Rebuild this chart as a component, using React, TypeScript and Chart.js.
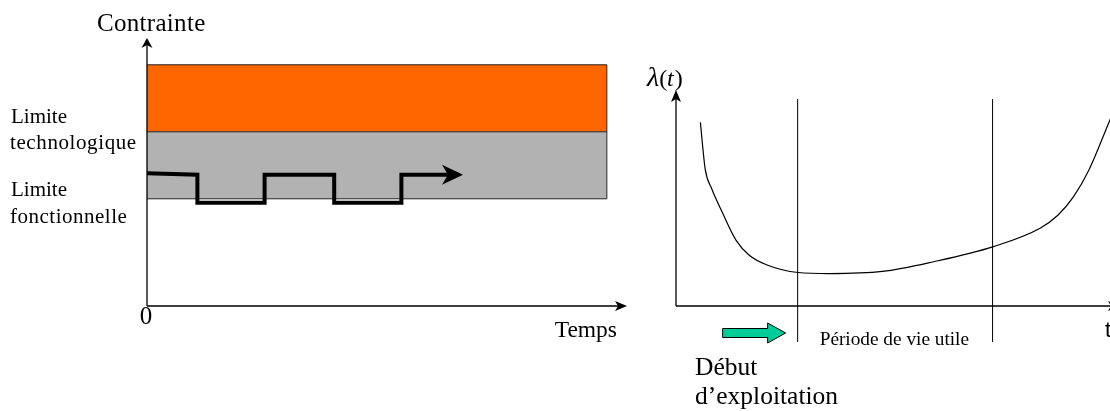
import { useEffect, useRef } from "react";
import { Chart, registerables } from "chart.js";

Chart.register(...registerables);

// ---------- Left panel: stress vs time ----------
const stressTime = [0, 1.05, 1.05, 2.45, 2.45, 3.9, 3.9, 5.3, 5.3, 6.5];
const stressLevel = [4.95, 4.9, 3.85, 3.85, 4.9, 4.9, 3.85, 3.85, 4.9, 4.9];
const bandEnd = 9.58;
const bandTop = 9;
const technoLimit = 6.5;
const functionalLimit = 4;

// ---------- Right panel: bathtub curve λ(t) ----------
const lifeTime = [0.55, 0.6, 0.66, 0.8, 1.05, 1.35, 1.65, 2.05, 2.75, 3.45, 4.65, 5.8, 7.15, 8.2, 8.6, 8.95, 9.3, 9.75, 9.95];
const failureRate = [8.5, 7.4, 6.3, 5.45, 4.3, 3.05, 2.35, 1.9, 1.55, 1.5, 1.6, 2.05, 2.75, 3.6, 4.2, 5.05, 6.3, 8.5, 9.5];
const usefulLifeBounds = [2.74, 7.13];
const boundTop = 9.58;
const boundBottom = -1.67;

const SERIF = "'Liberation Serif', 'Times New Roman', serif";

function arrowHead(ctx: CanvasRenderingContext2D, tx: number, ty: number, angle: number, len: number, half: number, notch: number, color = "#000") {
  ctx.save();
  ctx.translate(tx, ty);
  ctx.rotate(angle);
  ctx.beginPath();
  ctx.moveTo(0, 0);
  ctx.lineTo(-len, -half);
  ctx.lineTo(-len + notch, 0);
  ctx.lineTo(-len, half);
  ctx.closePath();
  ctx.fillStyle = color;
  ctx.fill();
  ctx.restore();
}

function spaced(ctx: CanvasRenderingContext2D, text: string, x: number, y: number, spacing: number) {
  (ctx as any).letterSpacing = `${spacing}px`;
  ctx.fillText(text, x, y);
  (ctx as any).letterSpacing = "0px";
}

const leftDecor = {
  id: "leftDecor",
  afterDatasetsDraw(chart: any) {
    const ctx: CanvasRenderingContext2D = chart.ctx;
    const xs = chart.scales.x;
    const ys = chart.scales.y;
    const x0 = xs.getPixelForValue(0);
    const y0 = ys.getPixelForValue(0);
    const top = chart.chartArea.top;
    const right = chart.chartArea.right;
    ctx.save();
    ctx.strokeStyle = "#000";
    ctx.lineWidth = 1.3;
    ctx.beginPath();
    ctx.moveTo(x0, y0);
    ctx.lineTo(x0, top + 4);
    ctx.moveTo(x0, y0);
    ctx.lineTo(right - 4, y0);
    ctx.stroke();
    arrowHead(ctx, x0, top, -Math.PI / 2, 10, 5.5, 3);
    arrowHead(ctx, right, y0, 0, 12, 5, 3);

    // arrow at the end of the stress signal
    const n = stressTime.length - 1;
    const ex = xs.getPixelForValue(stressTime[n]);
    const ey = ys.getPixelForValue(stressLevel[n]);
    arrowHead(ctx, ex + 4, ey, 0, 21, 10, 6);

    ctx.fillStyle = "#000";
    ctx.textBaseline = "alphabetic";
    ctx.textAlign = "left";
    ctx.font = `25px ${SERIF}`;
    spaced(ctx, "Contrainte", 97, 31, 0.3);

    const yt = ys.getPixelForValue(technoLimit);
    const yf = ys.getPixelForValue(functionalLimit);
    ctx.font = `21px ${SERIF}`;
    ctx.fillText("Limite", 11, yt - 9);
    spaced(ctx, "technologique", 10, yt + 17, 0.6);
    ctx.fillText("Limite", 11, yf - 3);
    spaced(ctx, "fonctionnelle", 10, yf + 24, 0.5);

    ctx.font = `25px ${SERIF}`;
    ctx.textAlign = "center";
    ctx.fillText("0", x0 - 1, y0 + 18);
    ctx.font = `23.5px ${SERIF}`;
    ctx.textAlign = "right";
    ctx.fillText("Temps", right - 10, y0 + 31);
    ctx.restore();
  },
};

const rightDecor = {
  id: "rightDecor",
  afterDatasetsDraw(chart: any) {
    const ctx: CanvasRenderingContext2D = chart.ctx;
    const xs = chart.scales.x;
    const ys = chart.scales.y;
    const x0 = xs.getPixelForValue(0);
    const y0 = ys.getPixelForValue(0);
    const top = chart.chartArea.top;
    const right = chart.chartArea.right;
    ctx.save();
    ctx.strokeStyle = "#000";
    ctx.lineWidth = 1.3;
    ctx.beginPath();
    ctx.moveTo(x0, y0);
    ctx.lineTo(x0, top + 4);
    ctx.moveTo(x0, y0);
    ctx.lineTo(right - 4, y0);
    ctx.stroke();
    arrowHead(ctx, x0, top, -Math.PI / 2, 12, 5, 3);
    arrowHead(ctx, right, y0, 0, 12, 5, 3);

    // λ(t)
    ctx.fillStyle = "#000";
    ctx.textAlign = "left";
    ctx.textBaseline = "alphabetic";
    let tx = x0 - 29;
    const ty = top - 4;
    ctx.font = `italic 28px ${SERIF}`;
    ctx.fillText("λ", tx, ty);
    tx += ctx.measureText("λ").width;
    ctx.font = `24px ${SERIF}`;
    ctx.fillText("(", tx, ty);
    tx += ctx.measureText("(").width;
    ctx.font = `italic 24px ${SERIF}`;
    ctx.fillText("t", tx, ty);
    tx += ctx.measureText("t").width + 1;
    ctx.font = `24px ${SERIF}`;
    ctx.fillText(")", tx, ty);

    // startup arrow (teal)
    const b0 = xs.getPixelForValue(usefulLifeBounds[0]);
    const ay = y0 + 27;
    const ax1 = b0 - 12;
    const ax0 = ax1 - 63;
    ctx.beginPath();
    ctx.moveTo(ax0, ay - 4.5);
    ctx.lineTo(ax1 - 18, ay - 4.5);
    ctx.lineTo(ax1 - 18, ay - 10);
    ctx.lineTo(ax1, ay);
    ctx.lineTo(ax1 - 18, ay + 10);
    ctx.lineTo(ax1 - 18, ay + 4.5);
    ctx.lineTo(ax0, ay + 4.5);
    ctx.closePath();
    ctx.fillStyle = "#00CC99";
    ctx.fill();
    ctx.lineWidth = 1;
    ctx.strokeStyle = "#000";
    ctx.stroke();

    ctx.fillStyle = "#000";
    ctx.font = `19.3px ${SERIF}`;
    ctx.fillText("Période de vie utile", b0 + 22, y0 + 39);
    ctx.font = `25.5px ${SERIF}`;
    ctx.fillText("Début", x0 + 19, y0 + 69);
    ctx.fillText("d’exploitation", x0 + 19, y0 + 98);
    ctx.font = "22px 'Liberation Sans', sans-serif";
    ctx.fillText("t", x0 + 429, y0 + 31);
    ctx.restore();
  },
};

function seg(xa: number, ya: number, xb: number, yb: number) {
  return [{ x: xa, y: ya }, { x: xb, y: yb }];
}

export default function App() {
  const leftRef = useRef<HTMLCanvasElement | null>(null);
  const rightRef = useRef<HTMLCanvasElement | null>(null);

  useEffect(() => {
    const common = {
      animation: false as const,
      responsive: false,
      maintainAspectRatio: false,
      events: [] as any[],
      plugins: { legend: { display: false }, tooltip: { enabled: false } },
      elements: { point: { radius: 0 }, line: { tension: 0 } },
    };

    const left = new Chart(leftRef.current!, {
      type: "line",
      data: {
        datasets: [
          {
            data: stressTime.map((x, i) => ({ x, y: stressLevel[i] })),
            borderColor: "#000",
            borderWidth: 4,
            borderJoinStyle: "miter",
            borderCapStyle: "butt",
            fill: false,
          },
          { data: seg(bandEnd, functionalLimit, bandEnd, bandTop), borderColor: "#222", borderWidth: 1, fill: false },
          { data: seg(0, functionalLimit, bandEnd, functionalLimit), borderColor: "#222", borderWidth: 1, fill: false },
          {
            data: seg(0, technoLimit, bandEnd, technoLimit),
            borderColor: "#222",
            borderWidth: 1,
            backgroundColor: "#B2B2B2",
            fill: { value: functionalLimit } as any,
          },
          {
            data: seg(0, bandTop, bandEnd, bandTop),
            borderColor: "#222",
            borderWidth: 1,
            backgroundColor: "#FF6600",
            fill: { value: technoLimit } as any,
          },
        ],
      },
      options: {
        ...common,
        layout: { padding: { left: 147, right: 13, top: 38, bottom: 105 } },
        scales: {
          x: { type: "linear", min: 0, max: 10, display: false },
          y: { type: "linear", min: 0, max: 10, display: false },
        },
      } as any,
      plugins: [leftDecor],
    });

    const right = new Chart(rightRef.current!, {
      type: "line",
      data: {
        datasets: [
          {
            data: lifeTime.map((x, i) => ({ x, y: failureRate[i] })),
            borderColor: "#000",
            borderWidth: 1.2,
            cubicInterpolationMode: "monotone",
            fill: false,
          },
          ...usefulLifeBounds.map((b) => ({
            data: seg(b, boundBottom, b, boundTop),
            borderColor: "#000",
            borderWidth: 1,
            fill: false,
            clip: false as any,
          })),
        ],
      },
      options: {
        ...common,
        layout: { padding: { left: 36, right: 10, top: 90, bottom: 105 } },
        scales: {
          x: { type: "linear", min: 0, max: 10, display: false },
          y: { type: "linear", min: 0, max: 10, display: false },
        },
      } as any,
      plugins: [rightDecor],
    });

    return () => {
      left.destroy();
      right.destroy();
    };
  }, []);

  return (
    <div style={{ position: "fixed", left: 0, top: 0, width: 1110, height: 411, overflow: "hidden", background: "#fff" }}>
      <canvas ref={leftRef} width={640} height={411} style={{ position: "absolute", left: 0, top: 0 }} />
      <canvas ref={rightRef} width={490} height={411} style={{ position: "absolute", left: 640, top: 0 }} />
    </div>
  );
}
